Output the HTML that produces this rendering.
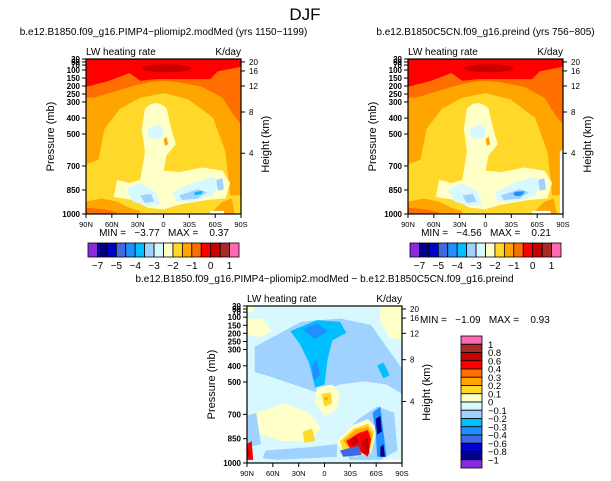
<!DOCTYPE html>
<html><head><meta charset="utf-8"><style>
body{margin:0;background:#fff;}
svg{display:block;font-family:"Liberation Sans",sans-serif;}
</style></head><body>
<svg id="c" width="611" height="481" viewBox="0 0 611 481" xmlns="http://www.w3.org/2000/svg">
<text x="305" y="20" font-size="17" text-anchor="middle">DJF</text>
</svg>
<script>
const pLabels=["1000","850","700","500","400","300","250","200","150","100","70","50","30"];
const pFrac=[1,0.845,0.69,0.484,0.381,0.277,0.226,0.174,0.123,0.071,0.039,0.019,0];
const hLabels=["4","8","12","16","20"];
const hFrac=[0.608,0.342,0.174,0.077,0.019];
const latLabels=["90N","60N","30N","0","30S","60S","90S"];
const absLevels=["-7","-5","-4","-3","-2","-1","0","1"];
const absColors=["#8a2be2","#00008b","#0000cd","#4169e1","#1e90ff","#00bfff","#a0d2ff","#d8f8ff","#ffffc8","#ffd82a","#ffa500","#ff6e00","#ff0000","#c80000","#a52a2a","#ff69b4"];
const diffLevels=["1","0.8","0.6","0.4","0.3","0.2","0.1","0","-0.1","-0.2","-0.3","-0.4","-0.6","-0.8","-1"];
const diffColors=["#ff69b4","#a52a2a","#c80000","#ff0000","#ff6e00","#ffa500","#ffd82a","#ffffc8","#d8f8ff","#a0d2ff","#00bfff","#1e90ff","#4169e1","#0000cd","#00008b","#8a2be2"];
const C={g:"#ffd82a",o:"#ffa500",d:"#ff6e00",r:"#ff0000",dr:"#c80000",br:"#a52a2a",y:"#ffffc8",lc:"#d8f8ff",ls:"#a0d2ff",ds:"#00bfff",db:"#1e90ff",rb:"#4169e1",b:"#0000cd",n:"#00008b"};
const NS="http://www.w3.org/2000/svg";
const svg=document.getElementById('c');
function mk(tag,attrs,parent){const e=document.createElementNS(NS,tag);for(const k in attrs)e.setAttribute(k,attrs[k]);(parent||svg).appendChild(e);return e;}
function txt(x,y,s,size,anchor,parent){const t=mk('text',{x:x,y:y,'font-size':size,'text-anchor':anchor||'start'},parent);t.textContent=s;return t;}

const absLayers=[
 ["o","M0,0 H100 V88 L93,88 L90,60 L82,38 L66,26 L50,22 L35,25 L22,32 L12,45 L8,65 L0,68 Z"],
 ["d","M0,0 H100 V42 L95,36 L88,25 L75,18 L60,15 L50,14 L40,15 L28,18 L15,22 L5,25 L0,25 Z"],
 ["r","M0,0 H100 V5 L85,8 L80,13 L60,13 L45,13 L35,14 L28,9 L15,14 L0,18 Z"],
 ["y","M38,32 Q45,25 52,32 L55,45 L58,55 L52,62 L50,72 L60,73 L75,70 L88,72 L93,80 L90,90 L78,91 L60,94 L50,97 L40,96 L30,91 L18,89 L20,78 L28,80 L35,78 L38,60 L36,45 Z"],
 ["lc","M40,46 Q49,38 50,48 Q49,54 40,50 Z"],
 ["lc","M26,84 L35,80 L45,86 L48,94 L40,95 L30,92 Z"],
 ["lc","M56,86 L68,80 L82,76 L86,80 L82,88 L70,92 L58,92 Z"],
 ["ls","M35,88 L42,87 L44,92 L38,93 Z"],
 ["ls","M60,88 L72,84 L78,86 L72,90 L62,91 Z"],
 ["ls","M84,78 L88,77 L89,84 L85,85 Z"],
 ["ds","M70,86 L75,85 L75,87 L70,88 Z"],
 ["o","M0,92 L10,90 L20,92 L28,96 L35,98 L35,100 L0,100 Z"],
 ["o","M88,92 L94,90 L96,100 L80,100 Z"],
 ["d","M0,96 L12,97 L20,99 L20,100 L0,100 Z"],
 ["o","M50,52 L52,50 L53,55 L51,56 Z"]
];
function panelLayers(g,layers,extra){
 layers.forEach(l=>mk('path',{d:l[1],fill:C[l[0]]},g));
 if(extra)extra(g);
}
function drawPanel(x0,y0,w,h,title,bg,layers,extra,id){
 const t=txt(x0+w/2,y0-24,title,10,'middle');
 
 
 const a=txt(x0,y0-4,'LW heating rate',10);
 
 
 const u=txt(x0+w,y0-4,'K/day',10,'end');
 
 
 const g=mk('g',{transform:`translate(${x0},${y0}) scale(${w/100},${h/100})`});
 
 
 mk('rect',{x:0,y:0,width:100,height:100,fill:bg},g);
 panelLayers(g,layers,extra);
 const fr=mk('rect',{x:x0,y:y0,width:w,height:h,fill:'none',stroke:'#000','stroke-width':1.2});
 
 
 pLabels.forEach((s,i)=>{const y=y0+pFrac[i]*h;mk('line',{x1:x0-4,x2:x0,y1:y,y2:y,stroke:'#000'});
  const tt=txt(x0-6,y+3,s,8,'end');tt.setAttribute('font-weight','bold');
  
  });
 hLabels.forEach((s,i)=>{const y=y0+hFrac[i]*h;mk('line',{x1:x0+w,x2:x0+w+4,y1:y,y2:y,stroke:'#000'});
  const tt=txt(x0+w+8,y+3,s,8);
  
  });
 latLabels.forEach((s,i)=>{const x=x0+i*w/6;mk('line',{x1:x,x2:x,y1:y0+h,y2:y0+h+4,stroke:'#000'});
  const tt=txt(x,y0+h+13,s,7.5,'middle');
  
  });
 const py=txt(0,0,'Pressure (mb)',11,'middle');py.setAttribute('transform',`translate(${x0-32},${y0+h/2}) rotate(-90)`);
 
 
 const hy=txt(0,0,'Height (km)',11,'middle');hy.setAttribute('transform',`translate(${x0+w+28},${y0+h*0.55}) rotate(-90)`);
 
 
}
function hbar(x0,y0,w,h,id){
 const bw=w/absColors.length;
 absColors.forEach((c,i)=>{const r=mk('rect',{x:x0+i*bw,y:y0,width:bw,height:h,fill:c,stroke:'#000','stroke-width':0.8});
  
  });
 absLevels.forEach((s,i)=>{const t=txt(x0+(1+2*i)*bw,y0+h+12,s.replace('-','\u2212'),10,'middle');
  
  });
}
function stats(x,y,mn,mx,id){
 const t=txt(x,y,`MIN =   ${mn}   MAX =    ${mx}`,10,'middle');t.style.whiteSpace='pre';
 
 
}
drawPanel(86,59,155,155,'b.e12.B1850.f09_g16.PIMP4\u2212pliomip2.modMed (yrs 1150\u22121199)',C.g,absLayers,g=>{
 mk('ellipse',{cx:52,cy:6,rx:16,ry:2.6,fill:C.dr},g);
 mk('rect',{x:80,y:98,width:9,height:2,fill:'#fff'},g);},'left-panel');
stats(164,236,'\u22123.77','0.37','left-panel');
hbar(88,243,151,14,'left');
drawPanel(408,59,155,155,'b.e12.B1850C5CN.f09_g16.preind (yrs 756\u2212805)',C.g,absLayers,g=>{
 mk('ellipse',{cx:52,cy:6,rx:16,ry:2.6,fill:C.dr},g);
 mk('path',{d:'M98,60 L100,58 L100,100 L98,100 Z',fill:'#fff'},g);
 mk('rect',{x:80,y:98,width:12,height:2,fill:'#fff'},g);
 mk('ellipse',{cx:71,cy:87,rx:3,ry:1.5,fill:C.db},g);},'right-panel');
stats(486,236,'\u22124.56','0.21','right-panel');
hbar(410,243,151,14,'right');

const diffLayers=[
 ["y","M0,0 H4 V4 H0 Z"],["y","M86,0 H100 V22 L92,20 L86,10 Z"],["y","M0,8 L10,8 L16,16 L8,20 L0,18 Z"],
 ["ls","M5,26 L20,18 L35,10 L60,8 L80,12 L90,26 L100,40 V56 L90,50 L75,48 L60,50 L45,55 L30,50 L15,45 L5,42 Z"],
 ["ds","M28,16 L45,9 L60,10 L64,17 L55,22 L52,34 L50,50 L44,52 L40,36 L34,24 Z"],
 ["db","M36,15 L45,11 L52,16 L44,21 Z"],["db","M42,38 L45,34 L47,44 L43,48 Z"],
 ["ds","M84,38 L88,36 L92,44 L88,46 Z"],
 ["y","M45,52 L55,50 L60,56 L58,66 L50,70 L44,62 Z"],["g","M48,56 L54,55 L55,62 L50,64 Z"],["o","M50,58 L52,58 L52,60 L50,60 Z"],
 ["y","M5,68 L25,62 L40,68 L48,78 L40,86 L22,86 L10,82 L0,82 Z"],
 ["ls","M0,70 L6,68 L9,88 L0,90 Z"],["ls","M12,92 L40,90 L58,88 L58,96 L20,98 L10,97 Z"],
 ["g","M36,80 L42,78 L44,86 L37,87 Z"],["g","M60,86 L63,84 L66,87 L63,90 Z"],
 ["ls","M62,82 L72,72 L84,64 L95,68 L97,92 L86,98 L66,98 Z"],
 ["y","M58,86 L68,76 L78,72 L84,78 L80,94 L70,96 L62,94 Z"],
 ["g","M60,86 L69,78 L78,75 L82,80 L79,94 L70,95 L62,92 Z"],
 ["o","M62,86 L70,79 L78,77 L81,82 L78,94 L69,93 Z"],
 ["r","M64,86 L72,81 L78,79 L80,85 L78,96 L72,92 L66,90 Z"],
 ["dr","M66,86 L70,83 L72,87 L68,89 Z"],["dr","M74,86 L78,84 L79,94 L75,94 Z"],
 ["rb","M60,92 L72,89 L74,95 L62,96 Z"],
 ["db","M81,68 L86,64 L88,80 L90,96 L84,96 L83,80 Z"],["n","M83,72 L86,70 L87,80 L84,82 Z"],["n","M86,90 L88,88 L89,96 L86,96 Z"],
 ["r","M0,88 L3,86 L4,98 L0,98 Z"],["dr","M0,92 L2,92 L2,96 L0,96 Z"]
];
drawPanel(247,306,155,157,'b.e12.B1850.f09_g16.PIMP4\u2212pliomip2.modMed \u2212 b.e12.B1850C5CN.f09_g16.preind',C.lc,diffLayers,g=>{
 mk('rect',{x:86,y:98,width:14,height:2,fill:'#fff'},g);},'diff-panel');
const st=txt(420,323,'MIN =   \u22121.09   MAX =    0.93',10);st.style.whiteSpace='pre';


const vbh=(468-336)/diffColors.length;
diffColors.forEach((c,i)=>{const r=mk('rect',{x:461,y:336+i*vbh,width:21,height:vbh,fill:c,stroke:'#000','stroke-width':0.8});
 
 });
diffLevels.forEach((s,i)=>{const t=txt(488,336+(i+1)*vbh+3.5,s.replace('-','\u2212'),9.5);
 
 });
</script>
</body></html>
